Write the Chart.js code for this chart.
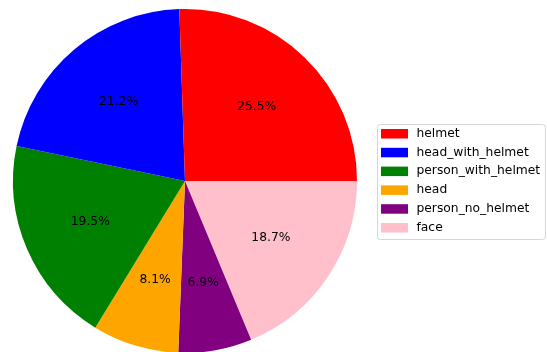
<!DOCTYPE html>
<html>
<head>
<meta charset="utf-8">
<script src="https://cdn.jsdelivr.net/npm/chart.js@4/dist/chart.umd.min.js"></script>
<style>
    body { margin: 0; background: #fff; }
    #box-chart { width: 547px; height: 352px; }
</style>
</head>
<body>
<div id="box-chart"><canvas id="PieChart" width="547" height="352"></canvas></div>
<script>
var categorias = ['helmet', 'head_with_helmet', 'person_with_helmet', 'head', 'person_no_helmet', 'face'];
var porcentagens = [25.5, 21.2, 19.5, 8.1, 6.9, 18.7];
var cores = ['red', 'blue', 'green', 'orange', 'purple', 'pink'];

// chart.js desenha no sentido horario, o original vai no anti-horario -> inverte a ordem
function inverter(v) {
    return v.slice().reverse();
}

var rotulos = {
    id: 'rotulos',
    afterDatasetsDraw: function (chart) {
        var ctx = chart.ctx;
        var meta = chart.getDatasetMeta(0);
        var dados = chart.data.datasets[0].data;
        var total = 0;
        for (var i = 0; i < dados.length; i++) total += dados[i];
        ctx.save();
        ctx.font = '12.3px "DejaVu Sans"';
        ctx.fillStyle = '#000';
        ctx.textAlign = 'center';
        ctx.textBaseline = 'middle';
        meta.data.forEach(function (arc, i) {
            var p = arc.getProps(['x', 'y', 'startAngle', 'endAngle', 'outerRadius'], true);
            var meio = (p.startAngle + p.endAngle) / 2;
            var r = p.outerRadius * 0.6;
            ctx.fillText((dados[i] / total * 100).toFixed(1) + '%', p.x + Math.cos(meio) * r, p.y + Math.sin(meio) * r);
        });
        ctx.restore();
    }
};

var legenda = {
    id: 'legenda',
    afterDraw: function (chart) {
        var ctx = chart.ctx;
        ctx.save();
        ctx.fillStyle = 'rgba(255,255,255,0.8)';
        ctx.strokeStyle = 'rgba(204,204,204,0.8)';
        ctx.lineWidth = 1;
        ctx.beginPath();
        ctx.roundRect(377.5, 124.5, 168, 115, 3);
        ctx.fill();
        ctx.stroke();
        ctx.font = '12.3px "DejaVu Sans"';
        ctx.textBaseline = 'middle';
        for (var i = 0; i < categorias.length; i++) {
            var cy = 133.7 + i * 18.8;
            ctx.fillStyle = cores[i];
            ctx.fillRect(381, cy - 4.7, 27, 9.5);
            ctx.fillStyle = '#000';
            ctx.fillText(categorias[i], 416.5, cy);
        }
        ctx.restore();
    }
};

function showPieChart(canvasName) {
    var ctx = document.getElementById(canvasName).getContext('2d');
    return new Chart(ctx, {
        type: 'pie',
        data: {
            labels: inverter(categorias),
            datasets: [{
                data: inverter(porcentagens),
                backgroundColor: inverter(cores),
                borderWidth: 0
            }]
        },
        options: {
            responsive: false,
            devicePixelRatio: 1,
            animation: false,
            rotation: 90,
            radius: 172,
            layout: { padding: { left: 0, right: 177, top: 10, bottom: 0 } },
            plugins: {
                legend: { display: false },
                tooltip: { enabled: false }
            }
        },
        plugins: [rotulos, legenda]
    });
}

showPieChart('PieChart');
</script>
</body>
</html>
